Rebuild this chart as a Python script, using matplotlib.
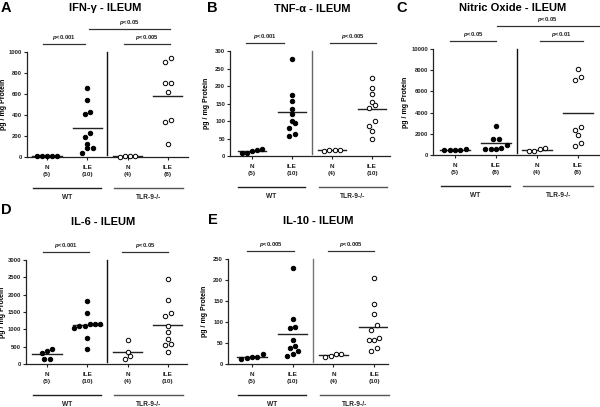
import numpy as np
import matplotlib
matplotlib.use("Agg")
import matplotlib.pyplot as plt

plt.rcParams['font.family'] = ['Liberation Sans', 'DejaVu Sans']
plt.rcParams['font.weight'] = 'bold'
plt.rcParams['mathtext.fontset'] = 'custom'
plt.rcParams['mathtext.it'] = 'Liberation Sans:italic:bold'
plt.rcParams['mathtext.rm'] = 'Liberation Sans:bold'

# categories along x
cat_names = ["N", "ILE", "N", "ILE"]
group_names = ["WT", "TLR-9-/-"]

# A - IFN-gamma
ifn_wt_n = [12, 10, 14, 11, 13]
ifn_wt_ile = [654, 545, 431, 408, 230, 191, 121, 83, 83, 41]
ifn_tlr_n = [6, 4, 8, 10]
ifn_tlr_ile = [944, 903, 702, 702, 622, 351, 338, 121]

# B - TNF-alpha
tnf_wt_n = [20, 15, 10, 10, 18]
tnf_wt_ile = [277, 174, 157, 134, 119, 101, 93, 79, 62, 57]
tnf_tlr_n = [16, 15, 16, 17]
tnf_tlr_ile = [224, 195, 177, 155, 146, 136, 101, 87, 72, 48]

# C - Nitric oxide
no_wt_n = [520, 500, 490, 510, 500]
no_wt_ile = [2750, 1520, 1520, 925, 540, 540, 540, 690]
no_tlr_n = [600, 350, 400, 650]
no_tlr_ile = [8150, 7400, 7100, 2600, 2400, 1850, 1150, 850]

# D - IL-6
il6_wt_n = [383, 431, 307, 144, 144]
il6_wt_ile = [1830, 1466, 1159, 1082, 1034, 1159, 1082, 1159, 747, 431]
il6_tlr_n = [700, 335, 240, 144]
il6_tlr_ile = [2443, 1849, 1485, 1389, 1101, 910, 718, 584, 556, 335]

# E - IL-10
il10_wt_n = [23, 14, 13, 16, 17]
il10_wt_ile = [229, 108, 87, 85, 58, 44, 38, 31, 24, 20]
il10_tlr_n = [25, 17, 20, 25]
il10_tlr_ile = [205, 142, 119, 92, 81, 61, 56, 56, 37, 30]

panels = [
    dict(letter="A", title="IFN-\u03b3 - ILEUM", data=[ifn_wt_n, ifn_wt_ile, ifn_tlr_n, ifn_tlr_ile],
         ymax=1000, ystep=200, px=(27, 52, 188, 157), n0=47, sp=40.3,
         brackets=[(-0.1, 0.95, 0, "p<0.001"), (1.9, 3.05, 0, "p<0.005"), (1.05, 3.05, 1, "p<0.05")],
         title_xy=(105, 8), letter_xy=(1, 8), divider_c="#111111"),
    dict(letter="B", title="TNF-\u03b1 - ILEUM", data=[tnf_wt_n, tnf_wt_ile, tnf_tlr_n, tnf_tlr_ile],
         ymax=300, ystep=50, px=(230, 51, 390, 156), n0=252, sp=40,
         brackets=[(-0.15, 0.8, 0, "p<0.001"), (1.95, 3.1, 0, "p<0.005")],
         title_xy=(312, 9), letter_xy=(207, 8), divider_c="#666666"),
    dict(letter="C", title="Nitric Oxide - ILEUM", data=[no_wt_n, no_wt_ile, no_tlr_n, no_tlr_ile],
         ymax=10000, ystep=2000, px=(433, 49, 600, 155), n0=455, sp=41,
         brackets=[(-0.12, 1.0, 0, "p<0.05"), (2.07, 3.12, 0, "p<0.01"), (1.02, 3.5, 1, "p<0.05")],
         title_xy=(513, 8), letter_xy=(396, 8), divider_c="#111111"),
    dict(letter="D", title="IL-6 - ILEUM", data=[il6_wt_n, il6_wt_ile, il6_tlr_n, il6_tlr_ile],
         ymax=3000, ystep=500, px=(26, 260, 187, 364), n0=47, sp=40.3,
         brackets=[(-0.1, 1.04, 0, "p<0.001"), (1.86, 3.0, 0, "p<0.05")],
         title_xy=(103, 222), letter_xy=(1, 210), divider_c="#111111"),
    dict(letter="E", title="IL-10 - ILEUM", data=[il10_wt_n, il10_wt_ile, il10_tlr_n, il10_tlr_ile],
         ymax=250, ystep=50, px=(228, 259, 388, 364), n0=252, sp=40.7,
         brackets=[(-0.12, 1.04, 0, "p<0.005"), (1.87, 3.0, 0, "p<0.005")],
         title_xy=(318, 221), letter_xy=(208, 220), divider_c="#777777"),
]

W, H = 600, 407
fig = plt.figure(figsize=(W / 100, H / 100), dpi=100)
fig.patch.set_facecolor("white")


def swarm(values, ymax, thr_frac=0.048, step=0.13):
    vals = np.asarray(values, dtype=float)
    order = np.argsort(vals)
    offs = np.zeros(len(vals))
    rows, cur = [], [order[0]]
    for i in order[1:]:
        if vals[i] - vals[cur[0]] < thr_frac * ymax:
            cur.append(i)
        else:
            rows.append(cur)
            cur = [i]
    rows.append(cur)
    for r in rows:
        n = len(r)
        for k, idx in enumerate(r):
            offs[idx] = (k - (n - 1) / 2) * step
    return offs


for p in panels:
    l, t, r, b = p["px"]
    ax = fig.add_axes([l / W, 1 - b / H, (r - l) / W, (b - t) / H])
    ax_h = b - t
    ax.set_xlim((l - p["n0"]) / p["sp"], (r - p["n0"]) / p["sp"])
    ax.set_ylim(0, p["ymax"])
    for s in ["top", "right"]:
        ax.spines[s].set_visible(False)
    for s in ["left", "bottom"]:
        ax.spines[s].set_color("#222222")
        ax.spines[s].set_linewidth(0.9)
    ax.set_yticks(np.arange(0, p["ymax"] + 1, p["ystep"]))
    ax.tick_params(axis="y", labelsize=4.2, length=2.5, width=0.8, pad=1, colors="#222222")
    labels = [f"{n}\n({len(d)})" for n, d in zip(cat_names, p["data"])]
    ax.set_xticks(range(4))
    ax.set_xticklabels(labels, fontsize=4.6, linespacing=1.55)
    ax.tick_params(axis="x", length=2.5, width=0.8, pad=3, colors="#222222")
    ax.set_ylabel("pg / mg Protein", fontsize=5, fontweight="bold")
    ax.yaxis.set_label_coords(-(20 if p["letter"] != "C" else 24) / (r - l), 0.5)

    for i, vals in enumerate(p["data"]):
        offs = swarm(vals, p["ymax"])
        filled = i < 2
        ax.plot(i + offs, vals, "o", ms=3.2, mew=0.7, clip_on=False,
                mfc="black" if filled else "white", mec="black", zorder=3)
        m = np.mean(vals)
        ax.plot([i - 0.36, i + 0.36], [m, m], color="#222222", lw=1.0, zorder=2)

    ax.plot([1.5, 1.5], [0.015, 1.0], transform=ax.get_xaxis_transform(),
            color=p["divider_c"], lw=1.0, clip_on=False)

    tr = ax.get_xaxis_transform()
    for x0, x1, lev, txt in p["brackets"]:
        yb = 1 + (8 + 15 * lev) / ax_h
        ax.plot([x0, x1], [yb, yb], transform=tr, color="#333333", lw=0.9, clip_on=False)
        ax.text((x0 + x1) / 2, yb + 2 / ax_h, r"$\it{p}$" + txt[1:], transform=tr,
                ha="center", va="bottom", fontsize=4.2, color="#222222")

    # group lines under x axis
    for g, (x0, x1) in enumerate([(-0.35, 1.33), (1.67, 3.37)]):
        yl = -31 / ax_h
        ax.plot([x0, x1], [yl, yl], transform=tr, color="#222222" if g == 0 else "#555555",
                lw=1.0, clip_on=False)
        ax.text((x0 + x1) / 2, -37 / ax_h, group_names[g], transform=tr,
                ha="center", va="top", fontsize=4.8, color="#222222")

    tx, ty = p["title_xy"]
    fig.text(tx / W, 1 - ty / H, p["title"], ha="center", va="center",
             fontsize=8, fontweight="bold")
    lx, ly = p["letter_xy"]
    fig.text(lx / W, 1 - ly / H, p["letter"], ha="left", va="center",
             fontsize=10.5, fontweight="bold")

fig.savefig("out.png", dpi=100, facecolor="white")
